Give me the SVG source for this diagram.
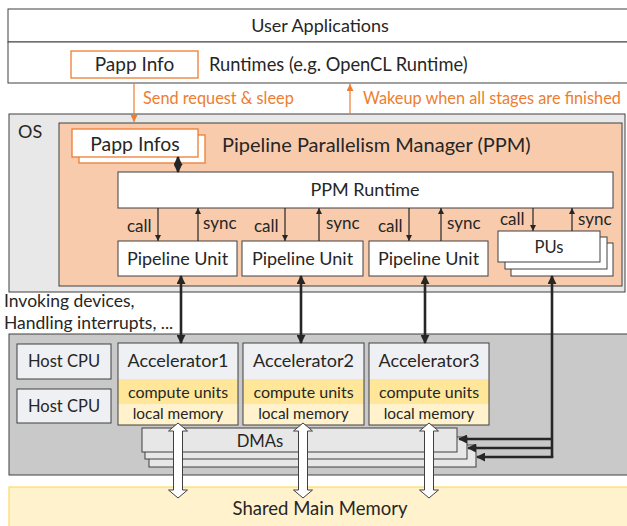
<svg xmlns="http://www.w3.org/2000/svg" width="627" height="526" viewBox="0 0 627 526">
  <style>
    text { font-family: Lato, "Open Sans", "Liberation Sans", sans-serif; fill: #262626; }
    .box { stroke: #404040; stroke-width: 1; }
    .white { fill: #ffffff; }
    .orange { fill: #ffffff; stroke: #ed7d31; stroke-width: 1.3; }
    .olabel { fill: #ed7d31; font-size: 16.3px; }
    .t18 { font-size: 18px; }
    .t17 { font-size: 17px; }
    .t16 { font-size: 16px; }
    .t15 { font-size: 15.4px; }
    .lbl { font-size: 17px; }
    .thin { stroke: #262626; stroke-width: 1.2; fill: none; }
    .thick { stroke: #262626; stroke-width: 2.6; fill: none; }
    .oline { stroke: #ed7d31; stroke-width: 1.2; fill: none; }
    .hollow { fill: #ffffff; stroke: #404040; stroke-width: 1; }
  </style>
  <defs>
    <marker id="ah" viewBox="0 0 10 10" refX="10" refY="5" markerWidth="6" markerHeight="6" markerUnits="userSpaceOnUse" orient="auto-start-reverse">
      <path d="M0,0 L10,5 L0,10 Z" fill="#262626"/>
    </marker>
    <marker id="ahBig" viewBox="0 0 10 10" refX="9" refY="5" markerWidth="9" markerHeight="9" markerUnits="userSpaceOnUse" orient="auto-start-reverse">
      <path d="M0,0 L10,5 L0,10 Z" fill="#262626"/>
    </marker>
    <marker id="ahOrange" viewBox="0 0 10 10" refX="10" refY="5" markerWidth="7" markerHeight="7" markerUnits="userSpaceOnUse" orient="auto-start-reverse">
      <path d="M0,0 L10,5 L0,10 Z" fill="#ed7d31"/>
    </marker>
    <!-- vertical double-headed block arrow, 75 tall -->
    <path id="blockArrow" d="M0,0 L9.5,8 L4.5,8 L4.5,67 L9.5,67 L0,75 L-9.5,67 L-4.5,67 L-4.5,8 L-9.5,8 Z"/>
  </defs>

  <!-- application layer -->
  <g id="user-apps">
    <rect x="8" y="9" width="625" height="33" class="box white"/>
    <text x="320" y="32" text-anchor="middle" class="t18">User Applications</text>
  </g>
  <g id="runtimes">
    <rect x="8" y="42" width="625" height="41" class="box white"/>
    <text x="209" y="71" class="t18" style="font-size:18.3px">Runtimes (e.g. OpenCL Runtime)</text>
  </g>
  <g id="papp-info">
    <rect x="71" y="51" width="127" height="27" class="orange"/>
    <text x="134.5" y="71" text-anchor="middle" style="font-size:19px">Papp Info</text>
  </g>

  <!-- operating system layer -->
  <g id="os">
    <rect x="9" y="114" width="616" height="178" class="box" fill="#e8e8e8"/>
    <text x="18" y="138" class="t18">OS</text>
  </g>
  <g id="ppm">
    <rect x="59" y="123" width="563" height="163" class="box" fill="#f8cbad"/>
    <text x="222" y="152" style="font-size:20px">Pipeline Parallelism Manager (PPM)</text>
  </g>
  <g id="papp-infos">
    <rect x="79" y="135" width="126" height="28" class="orange"/>
    <rect x="72" y="129" width="126" height="28" class="orange"/>
    <text x="135" y="151" text-anchor="middle" style="font-size:19.4px">Papp Infos</text>
  </g>
  <g id="ppm-runtime">
    <rect x="118" y="172" width="495" height="36" class="box white"/>
    <text x="365" y="196" text-anchor="middle" class="t18">PPM Runtime</text>
  </g>
  <g id="pipeline-unit-1">
    <rect x="118" y="241" width="119" height="35" class="box white"/>
    <text x="177.5" y="265" text-anchor="middle" class="t18">Pipeline Unit</text>
  </g>
  <g id="pipeline-unit-2">
    <rect x="242" y="241" width="121" height="35" class="box white"/>
    <text x="302.5" y="265" text-anchor="middle" class="t18">Pipeline Unit</text>
  </g>
  <g id="pipeline-unit-3">
    <rect x="369" y="241" width="119" height="35" class="box white"/>
    <text x="428.5" y="265" text-anchor="middle" class="t18">Pipeline Unit</text>
  </g>
  <g id="pus">
    <rect x="511" y="243" width="102" height="33" class="box white"/>
    <rect x="505" y="237" width="102" height="32" class="box white"/>
    <rect x="498" y="231" width="102" height="31" class="box white"/>
    <text x="549" y="253" text-anchor="middle" style="font-size:16.6px">PUs</text>
  </g>

  <!-- hardware layer -->
  <g id="hardware">
    <rect x="9" y="334" width="625" height="141" class="box" fill="#c9c9c9"/>
  </g>
  <g id="host-cpu-1">
    <rect x="17" y="344" width="94" height="35" class="box" fill="#eff0f3"/>
    <text x="64" y="367" text-anchor="middle" style="font-size:16.5px">Host CPU</text>
  </g>
  <g id="host-cpu-2">
    <rect x="17" y="389" width="94" height="34" class="box" fill="#eff0f3"/>
    <text x="64" y="412" text-anchor="middle" style="font-size:16.5px">Host CPU</text>
  </g>
  <g id="dmas">
    <rect x="149" y="445" width="327" height="22" class="box" fill="#e7e7e7"/>
    <rect x="145" y="437" width="322" height="22" class="box" fill="#e7e7e7"/>
    <rect x="142" y="428" width="315" height="24" class="box" fill="#e7e7e7"/>
    <text x="260" y="447" text-anchor="middle" style="font-size:16.7px">DMAs</text>
  </g>
  <g id="accelerator-1">
    <rect x="118" y="343" width="120" height="36" fill="#eff0f3"/>
    <rect x="118" y="379" width="120" height="25" fill="#ffe699"/>
    <rect x="118" y="404" width="120" height="21" fill="#fff2cc"/>
    <rect x="118" y="343" width="120" height="82" class="box" fill="none"/>
    <text x="178" y="367" text-anchor="middle" class="t18">Accelerator1</text>
    <text x="178" y="398" text-anchor="middle" class="t16">compute units</text>
    <text x="178" y="419" text-anchor="middle" class="t15">local memory</text>
  </g>
  <g id="accelerator-2">
    <rect x="243" y="343" width="121" height="36" fill="#eff0f3"/>
    <rect x="243" y="379" width="121" height="25" fill="#ffe699"/>
    <rect x="243" y="404" width="121" height="21" fill="#fff2cc"/>
    <rect x="243" y="343" width="121" height="82" class="box" fill="none"/>
    <text x="303.5" y="367" text-anchor="middle" class="t18">Accelerator2</text>
    <text x="303.5" y="398" text-anchor="middle" class="t16">compute units</text>
    <text x="303.5" y="419" text-anchor="middle" class="t15">local memory</text>
  </g>
  <g id="accelerator-3">
    <rect x="369" y="343" width="120" height="36" fill="#eff0f3"/>
    <rect x="369" y="379" width="120" height="25" fill="#ffe699"/>
    <rect x="369" y="404" width="120" height="21" fill="#fff2cc"/>
    <rect x="369" y="343" width="120" height="82" class="box" fill="none"/>
    <text x="429" y="367" text-anchor="middle" class="t18">Accelerator3</text>
    <text x="429" y="398" text-anchor="middle" class="t16">compute units</text>
    <text x="429" y="419" text-anchor="middle" class="t15">local memory</text>
  </g>
  <g id="shared-memory">
    <rect x="9" y="487" width="625" height="45" fill="#fff2cc" stroke="#ffd966" stroke-width="1.2"/>
    <text x="320" y="515" text-anchor="middle" style="font-size:18.5px">Shared Main Memory</text>
  </g>

  <!-- free-standing note -->
  <g id="os-note">
    <text x="4" y="307" style="font-size:17.5px">Invoking devices,</text>
    <text x="4" y="329" style="font-size:17.5px">Handling interrupts, ...</text>
  </g>

  <!-- connectors -->
  <g id="connectors">
    <line x1="134" y1="83" x2="134" y2="122" class="oline" marker-end="url(#ahOrange)"/>
    <text x="143" y="104" class="olabel">Send request &amp; sleep</text>
    <line x1="350" y1="114" x2="350" y2="84" class="oline" marker-end="url(#ahOrange)"/>
    <text x="363" y="104" class="olabel">Wakeup when all stages are finished</text>

    <line x1="178" y1="157" x2="178" y2="172" class="thick" marker-start="url(#ahBig)" marker-end="url(#ahBig)"/>

    <line x1="158" y1="208" x2="158" y2="241" class="thin" marker-end="url(#ah)"/>
    <line x1="198" y1="241" x2="198" y2="208" class="thin" marker-end="url(#ah)"/>
    <text x="127" y="232" class="lbl">call</text>
    <text x="203" y="229" class="lbl">sync</text>

    <line x1="285" y1="208" x2="285" y2="241" class="thin" marker-end="url(#ah)"/>
    <line x1="319" y1="241" x2="319" y2="208" class="thin" marker-end="url(#ah)"/>
    <text x="254" y="232" class="lbl">call</text>
    <text x="326" y="229" class="lbl">sync</text>

    <line x1="409" y1="208" x2="409" y2="241" class="thin" marker-end="url(#ah)"/>
    <line x1="441" y1="241" x2="441" y2="208" class="thin" marker-end="url(#ah)"/>
    <text x="378" y="232" class="lbl">call</text>
    <text x="447" y="229" class="lbl">sync</text>

    <line x1="533" y1="208" x2="533" y2="231" class="thin" marker-end="url(#ah)"/>
    <line x1="572" y1="231" x2="572" y2="208" class="thin" marker-end="url(#ah)"/>
    <text x="500" y="225" class="lbl">call</text>
    <text x="578" y="225" class="lbl">sync</text>

    <line x1="181" y1="276" x2="181" y2="343" class="thick" marker-start="url(#ahBig)" marker-end="url(#ahBig)"/>
    <line x1="301" y1="276" x2="301" y2="343" class="thick" marker-start="url(#ahBig)" marker-end="url(#ahBig)"/>
    <line x1="425" y1="276" x2="425" y2="343" class="thick" marker-start="url(#ahBig)" marker-end="url(#ahBig)"/>

    <path d="M552,457 L552,276" class="thick" marker-end="url(#ahBig)"/>
    <line x1="552" y1="439" x2="459" y2="439" class="thick" marker-end="url(#ahBig)"/>
    <line x1="552" y1="448" x2="468" y2="448" class="thick" marker-end="url(#ahBig)"/>
    <line x1="553.3" y1="457" x2="477" y2="457" class="thick" marker-end="url(#ahBig)"/>

    <use href="#blockArrow" transform="translate(178,423)" class="hollow"/>
    <use href="#blockArrow" transform="translate(303,423)" class="hollow"/>
    <use href="#blockArrow" transform="translate(429,423)" class="hollow"/>
  </g>
</svg>
